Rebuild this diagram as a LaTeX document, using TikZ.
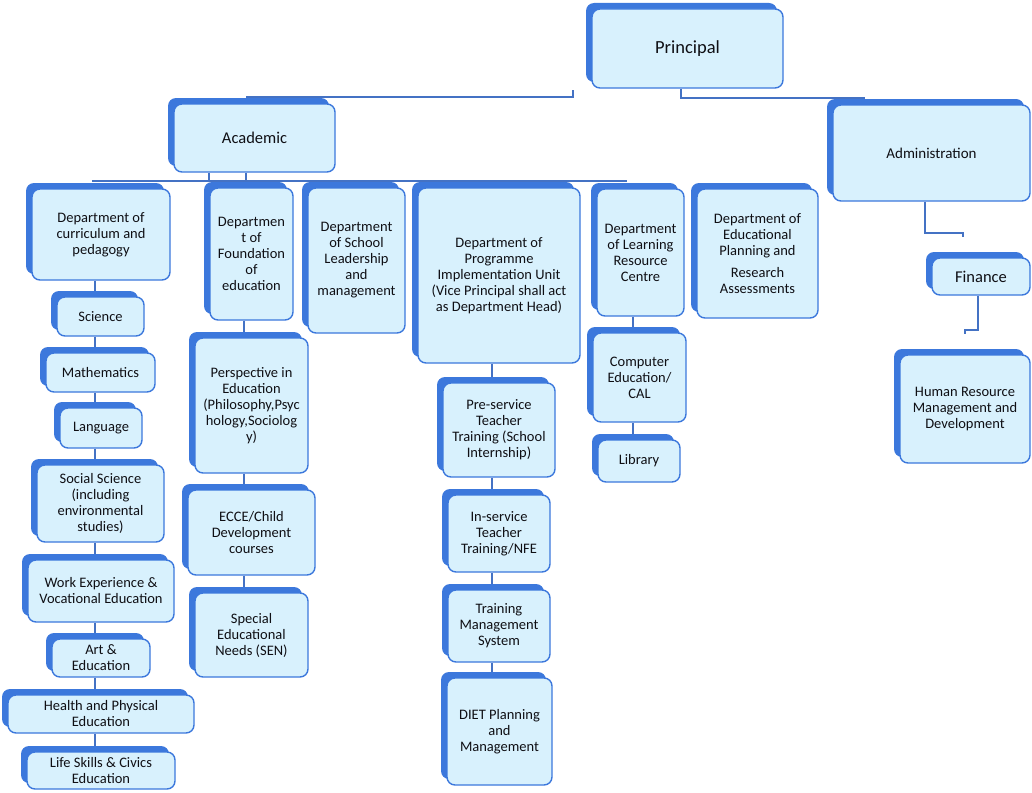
\documentclass[tikz,border=0pt]{standalone}
\usepackage{fontspec}
\setmainfont{Carlito}
\usetikzlibrary{shadows,backgrounds}

\definecolor{boxblue}{RGB}{60,120,220}
\definecolor{boxfill}{RGB}{216,241,253}
\definecolor{linkblue}{RGB}{68,114,196}
\definecolor{inkgray}{RGB}{15,15,20}

\tikzset{
  unit/.style={draw=boxblue, line width=1.4pt, fill=boxfill, rounded corners=8pt,
    align=center, text=inkgray, inner sep=1pt, font=\fontsize{14.5}{16}\selectfont,
    general shadow={shadow xshift=-6pt, shadow yshift=6pt, fill=boxblue}},
  link/.style={draw=linkblue, line width=1.4pt},
}

\begin{document}
\begin{tikzpicture}[x=1pt, y=-1pt]
    \useasboundingbox (0,0) rectangle (1032,792);

    % top levels
    \node[unit, minimum width=191, minimum height=79, font=\fontsize{18.5}{22}\selectfont] (principal) at (687.5,48.5) {Principal};
    \node[unit, minimum width=161, minimum height=68, font=\fontsize{16.5}{20}\selectfont] (academic) at (254.5,138) {Academic};
    \node[unit, minimum width=197, minimum height=96, font=\fontsize{15}{18}\selectfont] (admin) at (931.5,153) {Administration};
    \node[unit, minimum width=98, minimum height=37, font=\fontsize{16.5}{20}\selectfont] (finance) at (981,276.5) {Finance};
    \node[unit, minimum width=130, minimum height=108] (hrm) at (965,409) {Human Resource\\Management and\\Development};

    % departments
    \node[unit, minimum width=138, minimum height=91] (curric) at (101,234.5) {Department of\\curriculum and\\pedagogy};
    \node[unit, minimum width=83, minimum height=132] (found) at (251.5,254) {Departmen\\t of\\Foundation\\of\\education};
    \node[unit, minimum width=97, minimum height=145] (lead) at (356.5,260.5) {Department\\of School\\Leadership\\and\\management};
    \node[unit, minimum width=162, minimum height=175] (prog) at (499,275.5) {Department of\\Programme\\Implementation Unit\\(Vice Principal shall act\\as Department Head)};
    \node[unit, minimum width=87, minimum height=127] (lrc) at (640.5,252.5) {Department\\of Learning\\Resource\\Centre};
    \node[unit, minimum width=121, minimum height=129] (edplan) at (757.5,253.5) {Department of\\Educational\\Planning and\\[6pt]Research\\Assessments};

    % curriculum column
    \node[unit, minimum width=87, minimum height=39] (science) at (100.5,316.5) {Science};
    \node[unit, minimum width=109, minimum height=39] (maths) at (100.5,372.5) {Mathematics};
    \node[unit, minimum width=82, minimum height=40] (lang) at (101,428) {Language};
    \node[unit, minimum width=127, minimum height=77] (social) at (100.5,503.5) {Social Science\\(including\\environmental\\studies)};
    \node[unit, minimum width=146, minimum height=62] (work) at (101,591) {Work Experience \&\\Vocational Education};
    \node[unit, minimum width=98, minimum height=38] (art) at (101,658) {Art \&\\Education};
    \node[unit, minimum width=186, minimum height=38] (health) at (101,714) {Health and Physical\\Education};
    \node[unit, minimum width=148, minimum height=37] (life) at (101,770.5) {Life Skills \& Civics\\Education};

    % foundation column
    \node[unit, minimum width=113, minimum height=135] (persp) at (251.5,405.5) {Perspective in\\Education\\(Philosophy,Psyc\\hology,Sociolog\\y)};
    \node[unit, minimum width=127, minimum height=85] (ecce) at (251.5,532.5) {ECCE/Child\\Development\\courses};
    \node[unit, minimum width=113, minimum height=84] (sen) at (251.5,635) {Special\\Educational\\Needs (SEN)};

    % programme column
    \node[unit, minimum width=112, minimum height=94] (preserv) at (499,430) {Pre-service\\Teacher\\Training (School\\Internship)};
    \node[unit, minimum width=102, minimum height=77] (inserv) at (499,533.5) {In-service\\Teacher\\Training/NFE};
    \node[unit, minimum width=102, minimum height=72] (tms) at (499,626) {Training\\Management\\System};
    \node[unit, minimum width=105, minimum height=107] (diet) at (499.5,731.5) {DIET Planning\\and\\Management};

    % resource column
    \node[unit, minimum width=93, minimum height=89] (cal) at (639.5,377.5) {Computer\\Education/\\CAL};
    \node[unit, minimum width=82, minimum height=42] (library) at (639,461) {Library};

    % connectors
    \coordinate (pTapL) at (573,90);
    \coordinate (acTop) at (246,97);
    \coordinate (pTapR) at (681,98);
    \coordinate (adTop) at (865,98);
    \coordinate (busW) at (92,181);
    \coordinate (busE) at (627,181);
    \coordinate (tapA) at (209,181);
    \coordinate (tapB) at (246,181);
    \coordinate (colA) at (95,0);
    \coordinate (colB) at (244,0);
    \coordinate (colC) at (492,0);
    \coordinate (colD) at (633,0);
    \coordinate (admTap) at (925,233);
    \coordinate (finTap) at (963,237);
    \coordinate (finLow) at (978,330);
    \coordinate (hrTap) at (965,334);

    \begin{scope}[on background layer]
    \draw[link] (pTapL) |- (acTop);
    \draw[link] (principal.south -| pTapR) -- (pTapR) -- (adTop);
    \draw[link] (busW) -- (busE);
    \draw[link] (academic.south -| tapA) -- (tapA);
    \draw[link] (academic.south -| tapB) -- (tapB);
    \foreach \a/\b in {curric/science, science/maths, maths/lang, lang/social,
                       social/work, work/art, art/health, health/life}
        \draw[link] (\a.south -| colA) -- (\b.north -| colA);
    \foreach \a/\b in {found/persp, persp/ecce, ecce/sen}
        \draw[link] (\a.south -| colB) -- (\b.north -| colB);
    \foreach \a/\b in {prog/preserv, preserv/inserv, inserv/tms, tms/diet}
        \draw[link] (\a.south -| colC) -- (\b.north -| colC);
    \foreach \a/\b in {lrc/cal, cal/library}
        \draw[link] (\a.south -| colD) -- (\b.north -| colD);
    \draw[link] (admin.south -| admTap) -- (admTap) -| (finTap);
    \draw[link] (finance.south -| finLow) -- (finLow) -| (hrTap);
    \end{scope}
\end{tikzpicture}
\end{document}
